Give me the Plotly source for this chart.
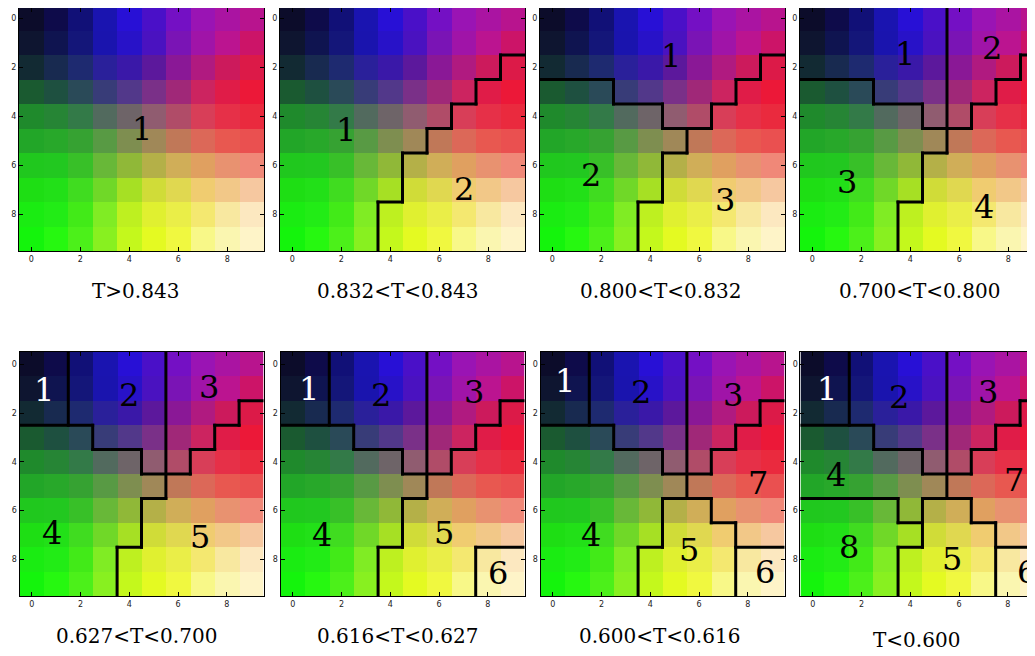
import numpy as np
import plotly.graph_objects as go

# ---------------- data ----------------
PIXEL_COLORS = [
    ["#0c0c2a", "#0e0b4a", "#111077", "#1a14b0", "#2810d6", "#4a10c8", "#7410c4", "#9a14b4", "#aa14a2", "#b8148e"],
    ["#0e1530", "#0f1450", "#141679", "#1a14ae", "#2812c8", "#4a12c0", "#7a14b5", "#a014a8", "#bb1490", "#cc1468"],
    ["#122a33", "#182a50", "#1e2a70", "#2a209a", "#3a18a8", "#5c189c", "#8a1896", "#b01a80", "#cc1a5c", "#dc1a48"],
    ["#1a5a30", "#1e5040", "#2a4a58", "#383c78", "#52388a", "#7a3088", "#a02878", "#cc2460", "#e01c48", "#ec1838"],
    ["#1f8a2c", "#268535", "#337a48", "#526a5e", "#6e6468", "#905c70", "#b04c68", "#d83e58", "#e63048", "#ea2a3e"],
    ["#22a628", "#28a82a", "#36a232", "#589a44", "#7e8e50", "#a08858", "#c07858", "#dc6858", "#e85850", "#ea5050"],
    ["#20c81e", "#22c820", "#38c028", "#68b838", "#90b838", "#b4b048", "#d0ae58", "#e0a060", "#e89270", "#f08878"],
    ["#1ede14", "#22e018", "#40dc20", "#70d828", "#a6e024", "#d0dc38", "#e0d850", "#f0cc70", "#f2c888", "#f6c8a0"],
    ["#1aec12", "#22ec16", "#42ea18", "#80ec24", "#bef020", "#e0f030", "#eaee48", "#f4e870", "#f8e8a0", "#fce8c0"],
    ["#14f40c", "#26f810", "#4cf01a", "#88f020", "#c4f81c", "#e4fa22", "#f0f840", "#f8f888", "#faf6b0", "#fef4c8"],
]

TICKS = [0, 2, 4, 6, 8]

TITLES = ["T>0.843", "0.832<T<0.843", "0.800<T<0.832", "0.700<T<0.800",
          "0.627<T<0.700", "0.616<T<0.627", "0.600<T<0.616", "T<0.600"]

REGIONS = [
    ["1111111111", "1111111111", "1111111111", "1111111111", "1111111111",
     "1111111111", "1111111111", "1111111111", "1111111111", "1111111111"],
    ["1111111111", "1111111111", "1111111112", "1111111122", "1111111222",
     "1111112222", "1111122222", "1111122222", "1111222222", "1111222222"],
    ["1111111111", "1111111111", "1111111113", "2221111133", "2222211333",
     "2222223333", "2222233333", "2222233333", "2222333333", "2222333333"],
    ["1111112222", "1111112222", "1111112224", "3331112244", "3333312444",
     "3333334444", "3333344444", "3333344444", "3333444444", "3333444444"],
    ["1122223333", "1122223333", "1122223335", "4442223355", "4444423555",
     "4444445555", "4444455555", "4444455555", "4444555555", "4444555555"],
    ["1122223333", "1122223333", "1122223335", "4442223355", "4444423555",
     "4444445555", "4444455555", "4444455555", "4444555566", "4444555566"],
    ["1122223333", "1122223333", "1122223337", "4442223377", "4444423777",
     "4444447777", "4444455777", "4444455577", "4444555566", "4444555566"],
    ["1122223333", "1122223333", "1122223337", "4442223377", "4444423777",
     "4444447777", "8888455777", "8888855577", "8888555566", "8888555566"],
]

LABEL_TEXT = [
    ["1"],
    ["1", "2"],
    ["1", "2", "3"],
    ["1", "2", "3", "4"],
    ["1", "2", "3", "4", "5"],
    ["1", "2", "3", "4", "5", "6"],
    ["1", "2", "3", "4", "5", "6", "7"],
    ["1", "2", "3", "4", "5", "6", "7", "8"],
]
LABEL_X = [
    [4.5],
    [2.2, 7.0],
    [4.85, 1.6, 7.05],
    [3.8, 7.35, 1.4, 7.0],
    [0.5, 4.0, 7.25, 0.85, 6.9],
    [0.65, 3.6, 7.45, 1.2, 6.2, 8.4],
    [0.5, 3.6, 7.4, 1.55, 5.6, 8.7, 8.4],
    [0.6, 3.55, 7.2, 0.95, 5.7, 8.8, 8.25, 1.5],
]
LABEL_Y = [
    [4.5],
    [4.55, 6.95],
    [1.55, 6.4, 7.4],
    [1.45, 1.2, 6.7, 7.7],
    [1.05, 1.25, 0.95, 6.9, 7.1],
    [1.0, 1.25, 1.15, 7.0, 6.9, 8.55],
    [0.7, 1.15, 1.25, 7.0, 7.6, 8.5, 4.85],
    [1.0, 1.35, 1.15, 4.55, 8.0, 8.5, 4.75, 7.5],
]
WHITE_LABEL_PANELS = [4, 5, 6, 7]   # panels whose region "1" label is white

# ---------------- layout geometry (window pixels) ----------------
OFF = 8                      # default page body margin
W, H = 1035 - OFF, 656 - OFF
COL_X = [(19, 264), (280, 525), (540, 785), (800, 1035)]
ROW_Y = [(6, 251), (352, 596)]
TITLE_POS = [(135, 291), (397, 291), (660, 291), (919, 291),
             (136, 636), (397, 636), (659, 636), (916, 640)]
PX_PER_UNIT = 24.5


def hex_to_rgb(h):
    return [int(h[1:3], 16), int(h[3:5], 16), int(h[5:7], 16)]


rgb = [[hex_to_rgb(c) for c in row] for row in PIXEL_COLORS]


def boundary_xy(rows, eps=0.06):
    L = np.array([[int(ch) for ch in r] for r in rows])
    n, m = L.shape
    xs, ys = [], []
    for c in range(m - 1):
        diff = L[:, c] != L[:, c + 1]
        r = 0
        while r < n:
            if diff[r]:
                s = r
                while r < n and diff[r]:
                    r += 1
                xs += [c + 0.5, c + 0.5, None]
                ys += [s - 0.5 - eps, r - 0.5 + eps, None]
            else:
                r += 1
    for r0 in range(n - 1):
        diff = L[r0, :] != L[r0 + 1, :]
        c = 0
        while c < m:
            if diff[c]:
                s = c
                while c < m and diff[c]:
                    c += 1
                ys += [r0 + 0.5, r0 + 0.5, None]
                xs += [s - 0.5 - eps, c - 0.5 + eps, None]
            else:
                c += 1
    return xs, ys


def px_x(p):
    return (p - OFF) / W


def px_y(p):
    return 1 - (p - OFF) / H


fig = go.Figure()
annotations = []
layout_axes = {}

for i in range(8):
    k = i + 1
    xn = "x" if k == 1 else f"x{k}"
    yn = "y" if k == 1 else f"y{k}"
    xa = "xaxis" if k == 1 else f"xaxis{k}"
    ya = "yaxis" if k == 1 else f"yaxis{k}"
    col, row = i % 4, i // 4
    x0, x1 = COL_X[col]
    y0, y1 = ROW_Y[row]

    # visible window parts (the page cuts the figure at its edges)
    vx1 = min(x1, OFF + W)
    vy0 = max(y0, OFF)
    xmax = -0.5 + (vx1 - x0) / PX_PER_UNIT
    ytop = -0.5 + (vy0 - y0) / PX_PER_UNIT

    fig.add_trace(go.Image(z=rgb, x0=0, dx=1, y0=0, dy=1, xaxis=xn, yaxis=yn,
                           hoverinfo="skip"))
    bx, by = boundary_xy(REGIONS[i])
    if bx:
        fig.add_trace(go.Scatter(x=bx, y=by, mode="lines", xaxis=xn, yaxis=yn,
                                 line=dict(color="black", width=3),
                                 hoverinfo="skip", showlegend=False))

    common = dict(showline=True, linecolor="black", linewidth=1, mirror="ticks",
                  ticks="inside", ticklen=4, tickcolor="black", tickwidth=1,
                  showgrid=False, zeroline=False, tickvals=TICKS,
                  tickfont=dict(family="DejaVu Sans", size=8, color="#222"))
    layout_axes[xa] = dict(domain=[px_x(x0), px_x(vx1)], range=[-0.5, xmax],
                           autorange=False, anchor=yn, scaleanchor=False, **common)
    layout_axes[ya] = dict(domain=[px_y(y1), px_y(vy0)], range=[9.5, ytop],
                           autorange=False, anchor=xn, **common)

    for t, lx, ly in zip(LABEL_TEXT[i], LABEL_X[i], LABEL_Y[i]):
        color = "white" if (t == "1" and i in WHITE_LABEL_PANELS) else "black"
        annotations.append(dict(x=lx, y=ly, xref=xn, yref=yn, text=t,
                                showarrow=False, xanchor="center", yanchor="middle",
                                font=dict(family="DejaVu Serif", size=32, color=color)))

    tx, ty = TITLE_POS[i]
    annotations.append(dict(x=px_x(tx), y=px_y(ty), xref="paper", yref="paper",
                            text=TITLES[i].replace("<", "&lt;").replace(">", "&gt;"),
                            showarrow=False, xanchor="center", yanchor="middle",
                            font=dict(family="DejaVu Serif", size=20, color="black")))

fig.update_layout(width=W, height=H, margin=dict(l=0, r=0, t=0, b=0),
                  paper_bgcolor="white", plot_bgcolor="white",
                  showlegend=False, annotations=annotations, **layout_axes)

fig.write_html("out.html")
